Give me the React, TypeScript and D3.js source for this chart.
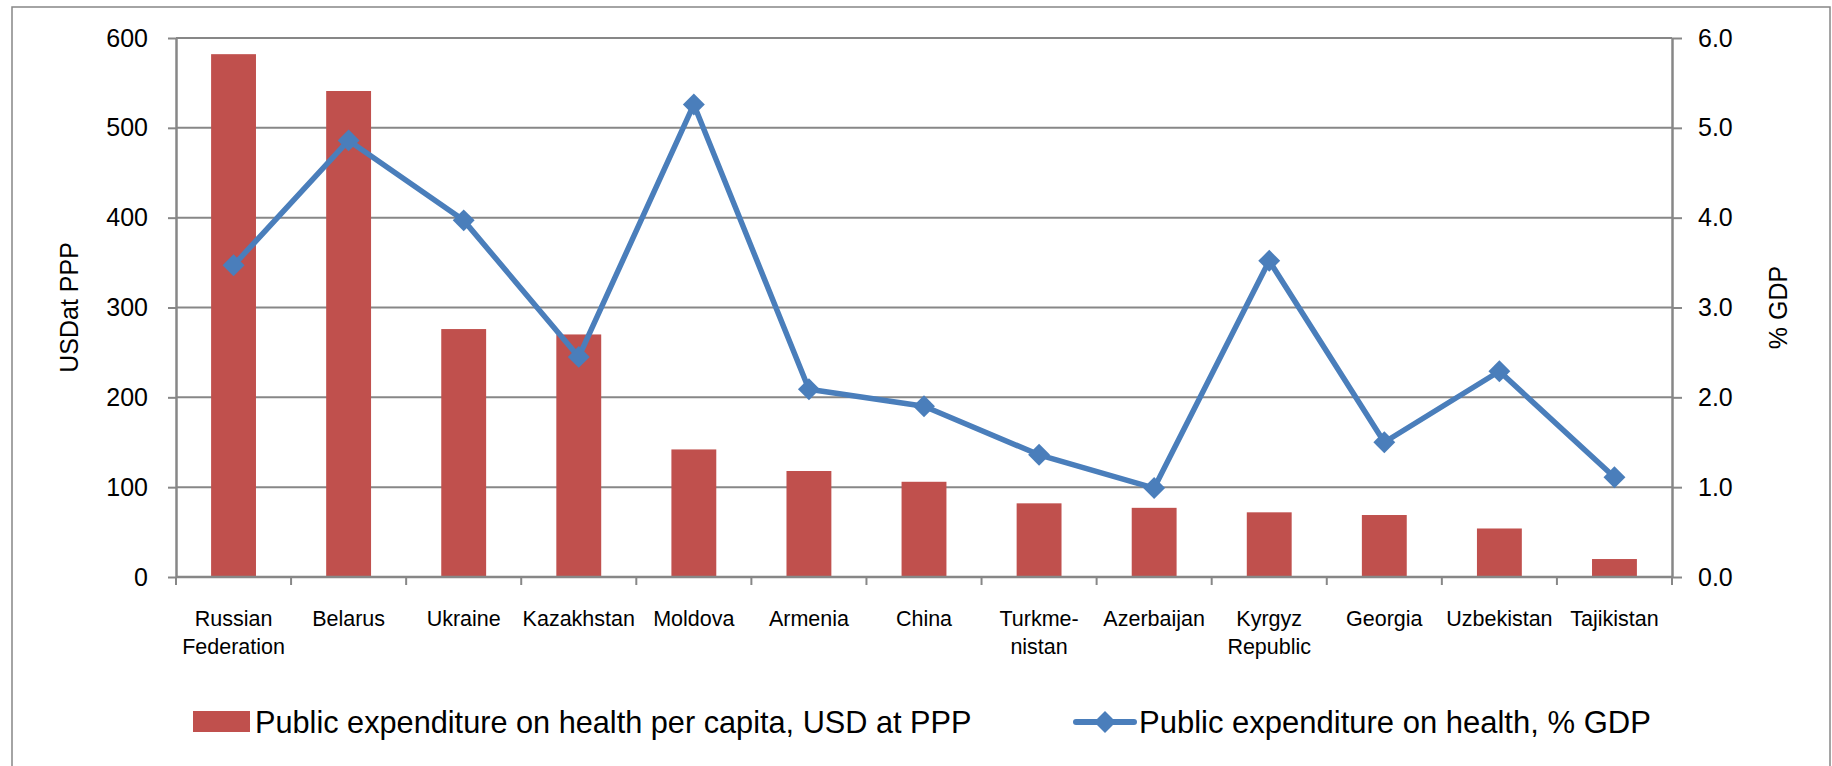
import { useEffect, useRef } from 'react';
import * as d3 from 'd3';

const countries = [
  'Russian Federation',
  'Belarus',
  'Ukraine',
  'Kazakhstan',
  'Moldova',
  'Armenia',
  'China',
  'Turkme- nistan',
  'Azerbaijan',
  'Kyrgyz Republic',
  'Georgia',
  'Uzbekistan',
  'Tajikistan',
];
// two-line labels as drawn under the axis
const countryLines = [
  ['Russian', 'Federation'],
  ['Belarus'],
  ['Ukraine'],
  ['Kazakhstan'],
  ['Moldova'],
  ['Armenia'],
  ['China'],
  ['Turkme-', 'nistan'],
  ['Azerbaijan'],
  ['Kyrgyz', 'Republic'],
  ['Georgia'],
  ['Uzbekistan'],
  ['Tajikistan'],
];
const perCapita = [582, 541, 276, 270, 142, 118, 106, 82, 77, 72, 69, 54, 20];
const pctGdp = [3.47, 4.86, 3.97, 2.45, 5.26, 2.09, 1.9, 1.36, 0.99, 3.52, 1.5, 2.29, 1.11];
const leftTicks = [0, 100, 200, 300, 400, 500, 600];
const rightTicks = [0, 1, 2, 3, 4, 5, 6];
const barLabel = 'Public expenditure on health per capita, USD at PPP';
const lineLabel = 'Public expenditure on health, % GDP';

const BAR = '#C0504D';
const LINE = '#4A7EBB';
const GRID = '#878787';
const FONT = '"Liberation Sans", Arial, sans-serif';

const ComboChart = () => {
  const svgRef = useRef(null);

  useEffect(() => {
    const W = 1832;
    const H = 766;
    const margin = { top: 38, left: 176, right: 160, bottom: 189 };
    const width = W - margin.left - margin.right;
    const height = H - margin.top - margin.bottom;

    const svg = d3.select(svgRef.current);
    svg.selectAll('*').remove();
    svg.attr('width', W).attr('height', H).style('font-family', FONT);

    // outer chart frame
    svg
      .append('rect')
      .attr('x', 12)
      .attr('y', 7)
      .attr('width', 1818)
      .attr('height', 800)
      .attr('fill', 'white')
      .attr('stroke', GRID)
      .attr('stroke-width', 1.5);

    const g = svg.append('g').attr('transform', `translate(${margin.left},${margin.top})`);

    const x = d3.scaleBand().domain(countries).range([0, width]).padding(0);
    const yL = d3.scaleLinear().domain([0, 600]).range([height, 0]);
    const yR = d3.scaleLinear().domain([0, 6]).range([height, 0]);

    // gridlines
    g.selectAll('.grid')
      .data(leftTicks.slice(1))
      .enter()
      .append('line')
      .attr('x1', 0)
      .attr('x2', width)
      .attr('y1', (d) => yL(d))
      .attr('y2', (d) => yL(d))
      .attr('stroke', GRID)
      .attr('stroke-width', 2);

    // bars
    const barW = x.bandwidth() * 0.39;
    g.selectAll('.bar')
      .data(perCapita)
      .enter()
      .append('rect')
      .attr('x', (d, i) => x(countries[i]) + (x.bandwidth() - barW) / 2)
      .attr('y', (d) => yL(d))
      .attr('width', barW)
      .attr('height', (d) => height - yL(d))
      .attr('fill', BAR);

    // axes
    const axisStyle = (sel) => {
      sel.select('.domain').attr('stroke', GRID).attr('stroke-width', 2.5);
      sel.selectAll('.tick line').attr('stroke', GRID).attr('stroke-width', 2);
      sel.selectAll('text').style('font-family', FONT).style('font-size', '25px').attr('fill', '#000');
    };

    g.append('g')
      .call(d3.axisLeft(yL).tickValues(leftTicks).tickSize(8).tickSizeOuter(0).tickPadding(20))
      .call(axisStyle);

    g.append('g')
      .attr('transform', `translate(${width},0)`)
      .call(
        d3
          .axisRight(yR)
          .tickValues(rightTicks)
          .tickFormat(d3.format('.1f'))
          .tickSize(10)
          .tickSizeOuter(0)
          .tickPadding(16)
      )
      .call(axisStyle);

    // category axis: ticks at band boundaries
    g.append('line')
      .attr('x1', 0)
      .attr('x2', width)
      .attr('y1', height)
      .attr('y2', height)
      .attr('stroke', GRID)
      .attr('stroke-width', 2.5);
    g.selectAll('.ctick')
      .data(d3.range(countries.length + 1))
      .enter()
      .append('line')
      .attr('x1', (i) => i * x.step())
      .attr('x2', (i) => i * x.step())
      .attr('y1', height)
      .attr('y2', height + 8)
      .attr('stroke', GRID)
      .attr('stroke-width', 2);

    countryLines.forEach((lines, i) => {
      const cx = x(countries[i]) + x.bandwidth() / 2;
      const t = g
        .append('text')
        .attr('x', cx)
        .attr('y', height + 49)
        .attr('text-anchor', 'middle')
        .style('font-size', '21.5px');
      lines.forEach((l, j) => {
        t.append('tspan')
          .attr('x', cx)
          .attr('dy', j === 0 ? 0 : 28)
          .text(l);
      });
    });

    // line series
    const line = d3
      .line()
      .x((d, i) => x(countries[i]) + x.bandwidth() / 2)
      .y((d) => yR(d));
    g.append('path')
      .datum(pctGdp)
      .attr('d', line)
      .attr('fill', 'none')
      .attr('stroke', LINE)
      .attr('stroke-width', 5.5)
      .attr('stroke-linejoin', 'round');

    const diamond = d3.symbol(d3.symbolSquare, 240);
    g.selectAll('.marker')
      .data(pctGdp)
      .enter()
      .append('path')
      .attr('d', diamond)
      .attr(
        'transform',
        (d, i) => `translate(${x(countries[i]) + x.bandwidth() / 2},${yR(d)}) rotate(45)`
      )
      .attr('fill', LINE);

    // axis titles
    svg
      .append('text')
      .attr('transform', `translate(78,${margin.top + height / 2}) rotate(-90)`)
      .attr('text-anchor', 'middle')
      .style('font-size', '25px')
      .text('USDat PPP');
    svg
      .append('text')
      .attr('transform', `translate(1787,${margin.top + height / 2}) rotate(-90)`)
      .attr('text-anchor', 'middle')
      .style('font-size', '25px')
      .text('% GDP');

    // legend
    const legY = 722;
    svg
      .append('rect')
      .attr('x', 193)
      .attr('y', legY - 11)
      .attr('width', 57)
      .attr('height', 21)
      .attr('fill', BAR);
    svg
      .append('text')
      .attr('x', 255)
      .attr('y', legY + 11)
      .style('font-size', '30.7px')
      .text(barLabel);

    svg
      .append('line')
      .attr('x1', 1076)
      .attr('x2', 1134)
      .attr('y1', legY)
      .attr('y2', legY)
      .attr('stroke', LINE)
      .attr('stroke-width', 6)
      .attr('stroke-linecap', 'round');
    svg
      .append('path')
      .attr('d', diamond)
      .attr('transform', `translate(1105,${legY}) rotate(45)`)
      .attr('fill', LINE);
    svg
      .append('text')
      .attr('x', 1139)
      .attr('y', legY + 11)
      .style('font-size', '31px')
      .text(lineLabel);
  }, []);

  return <svg ref={svgRef} style={{ position: 'fixed', left: 0, top: 0, display: 'block' }}></svg>;
};

export default function App() {
  return <ComboChart />;
}
